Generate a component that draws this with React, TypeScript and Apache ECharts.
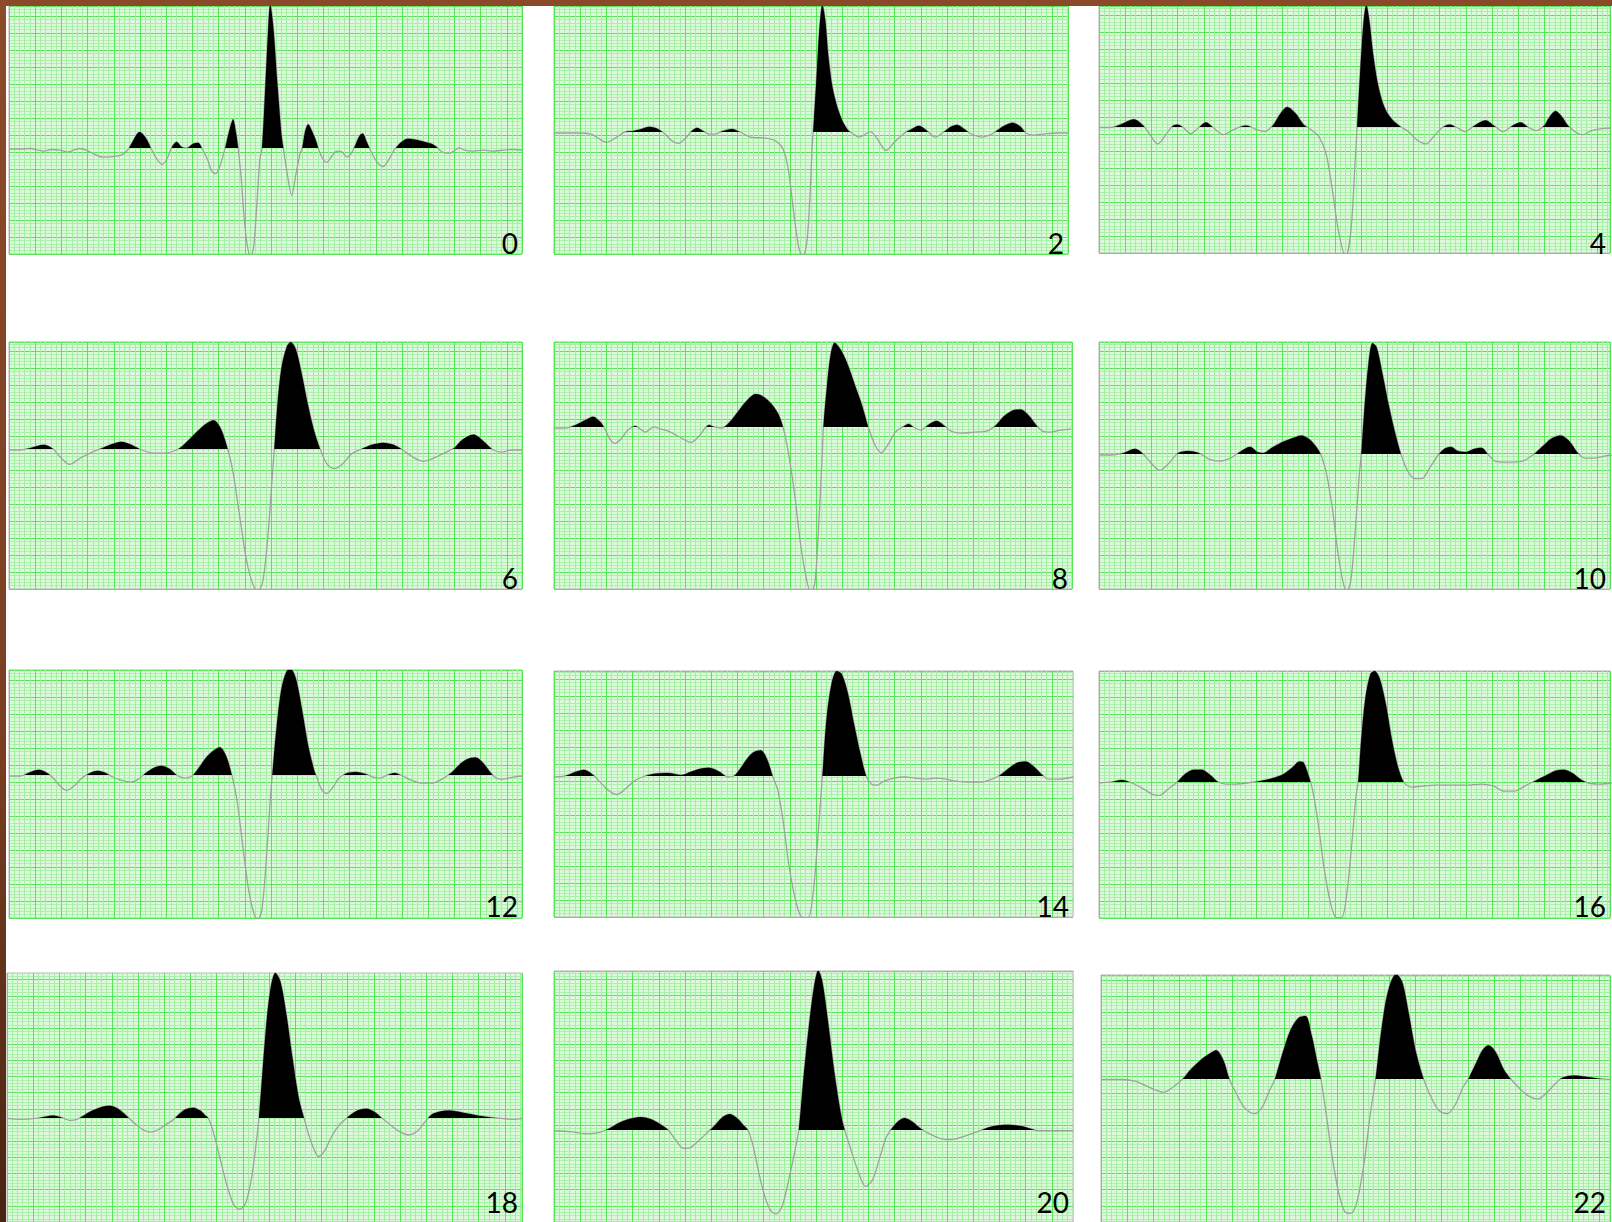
import React, { useEffect, useRef } from "react";
import * as echarts from "echarts";

// ---------- data (x = sample position, y = amplitude above the zero line) ----------
const panelLabels = ["0", "2", "4", "6", "8", "10", "12", "14", "16", "18", "20", "22"];

const trace0 = [[0,0],[11,0],[21,0.5],[28,-1],[34,-2],[41,-0.5],[49,-1],[57,-3],[63,-1],[69,0.5],[75,-1],[83,-5],[91,-8],[101,-7.5],[109,-6],[115,-1.5],[119,5],[127,16.5],[133,11],[139,-1],[144,-10],[149,-15],[154,-9],[158,1],[163,7],[168,2],[173,1],[179,5],[184,6],[188,0],[193,-10],[197,-21],[201,-24],[205,-17],[210,0],[214,17],[218,29],[221,15],[223,0],[226,-30],[229,-70],[232,-95],[235,-105],[238,-95],[241,-55],[244,-10],[246,0],[249,55],[252,115],[254,141],[257,120],[261,65],[265,15],[267,0],[270,-20],[275,-45],[279,-25],[283,-5],[285,0],[288,17],[291,24],[295,17],[299,7],[301,0],[305,-9],[309,-13],[314,-7],[319,-2],[324,-3],[329,-8],[333,-4],[336,2],[341,13],[344,15],[348,7],[351,0],[355,-8],[360,-15],[364,-17],[369,-11],[374,-2],[377,2],[382,7],[388,10],[396,9],[404,7],[411,5],[416,2],[419,-1],[424,-4],[429,-4],[434,-1],[438,1],[443,-1],[451,-2],[461,-1],[471,-2],[481,-1],[491,-0.5],[499,-1]];

const trace2 = [[0,0],[21,0],[36,-1],[51,-9],[61,-4],[69,1],[77,2],[85,4],[93,6],[101,4],[108,-1],[114,-7],[121,-10],[128,-5],[133,1],[139,5],[145,2],[151,-1],[157,-1],[164,2],[173,4],[181,1],[191,-4],[206,-5],[216,-8],[223,-16],[228,-36],[233,-76],[238,-111],[242,-121],[246,-106],[249,-61],[251,-16],[252,0],[255,49],[258,99],[261,125],[264,109],[267,74],[271,44],[276,24],[281,11],[286,3],[291,-1],[297,-4],[303,-1],[308,1],[314,-5],[323,-17],[331,-9],[341,0],[348,4],[355,7],[362,3],[371,-4],[379,1],[386,6],[392,8],[399,4],[406,-1],[416,-4],[426,-1],[436,6],[446,10],[454,6],[459,0],[466,-2],[476,-1],[489,0],[500,0]];

const trace4 = [[0,0],[11,0],[21,3],[34,8],[43,2],[49,-6],[57,-16],[65,-7],[71,1],[76,3],[82,0],[89,-6],[96,-1],[104,5],[111,0],[121,-7],[131,-2],[143,2],[153,-2],[161,-4],[169,2],[176,13],[183,20],[191,14],[199,3],[206,-2],[214,-9],[221,-26],[227,-61],[233,-101],[240,-126],[245,-101],[249,-36],[251,0],[254,54],[257,99],[260,120],[263,104],[267,69],[272,39],[278,19],[285,8],[293,1],[301,-4],[309,-12],[318,-16],[327,-7],[334,0],[341,3],[348,0],[356,-4],[364,1],[376,7],[384,2],[393,-4],[401,1],[410,5],[418,0],[425,-3],[433,2],[438,10],[444,16],[450,11],[457,1],[466,-6],[471,-7],[479,-3],[489,-1],[498,-0.5]];

const trace6 = [[0,0],[11,0],[21,2],[34,5],[43,1],[49,-6],[59,-14],[69,-8],[81,-2],[91,2],[101,6],[109,8],[119,5],[129,0],[141,-3],[151,-3],[163,0],[171,6],[181,16],[191,25],[199,29],[206,21],[213,0],[218,-22],[224,-62],[231,-107],[237,-130],[242,-138],[247,-127],[252,-82],[256,-27],[258,0],[261,43],[265,80],[270,100],[274,105],[279,98],[285,73],[291,43],[297,18],[303,0],[309,-13],[316,-18],[324,-14],[333,-4],[343,1],[353,5],[364,7],[374,5],[383,0],[393,-7],[403,-11],[413,-8],[423,-3],[433,2],[441,10],[452,15],[461,9],[471,0],[479,-2],[489,0],[499,0]];

const trace8 = [[0,0],[11,0],[21,3],[31,8],[38,11],[45,6],[49,0],[54,-10],[59,-15],[65,-11],[71,-3],[79,2],[84,-1],[89,-4],[97,1],[104,-1],[111,-3],[121,-8],[133,-14],[141,-8],[147,0],[151,3],[156,1],[163,0],[171,6],[179,16],[187,26],[196,33],[203,31],[211,24],[218,14],[223,0],[228,-24],[234,-64],[240,-114],[246,-149],[250,-160],[254,-149],[258,-84],[261,-24],[262,0],[265,36],[269,71],[273,83],[279,76],[286,61],[293,41],[300,21],[306,0],[312,-16],[318,-24],[325,-16],[332,-4],[339,1],[345,4],[351,0],[357,-2],[364,3],[372,7],[380,2],[386,-3],[396,-5],[409,-4],[421,-3],[429,2],[437,11],[446,17],[454,18],[462,12],[469,3],[475,-3],[483,-4],[493,-2],[503,-1]];

const trace10 = [[0,0],[12,0],[24,2],[35,6],[42,2],[50,-7],[59,-15],[68,-8],[77,2],[87,4],[97,2],[107,-4],[117,-6],[128,-3],[137,3],[147,8],[154,3],[160,2],[168,7],[177,12],[187,16],[197,19],[205,15],[212,7],[216,0],[221,-17],[227,-52],[232,-92],[237,-122],[241,-133],[245,-122],[249,-77],[253,-22],[255,0],[258,43],[262,88],[266,109],[270,105],[275,83],[282,48],[289,18],[294,0],[300,-15],[307,-23],[314,-23],[322,-12],[330,0],[336,6],[342,8],[349,4],[357,3],[365,6],[372,7],[379,0],[385,-6],[397,-7],[412,-6],[422,0],[432,9],[440,16],[449,19],[457,14],[465,3],[472,-3],[482,-3],[492,-1],[499,0]];

const trace12 = [[0,0],[11,0],[21,4],[29,6],[37,3],[43,-2],[49,-9],[56,-14],[63,-10],[71,-2],[79,3],[86,5],[94,3],[101,-1],[109,-4],[118,-6],[126,-3],[133,3],[141,8],[148,10],[156,7],[163,1],[171,-2],[178,0],[184,7],[191,17],[198,24],[205,28],[211,20],[217,0],[222,-25],[227,-65],[233,-110],[238,-133],[242,-140],[246,-130],[250,-85],[254,-25],[256,0],[260,45],[265,85],[270,102],[274,104],[279,95],[285,65],[291,30],[297,5],[299,0],[304,-13],[309,-17],[315,-11],[321,-2],[329,3],[338,4],[347,2],[354,-1],[361,-2],[368,1],[375,3],[383,0],[391,-4],[401,-7],[411,-7],[421,-3],[431,4],[439,12],[447,17],[454,18],[461,13],[468,4],[474,-2],[481,-3],[491,-1],[499,0]];

const trace14 = [[0,0],[11,1],[21,5],[29,7],[37,3],[44,-4],[53,-13],[61,-17],[69,-12],[78,-4],[86,0],[96,3],[111,4],[124,2],[133,5],[142,8],[151,9],[161,5],[169,0],[175,1],[181,8],[188,18],[194,24],[201,26],[207,18],[213,0],[218,-14],[223,-44],[229,-89],[236,-124],[242,-137],[247,-137],[252,-114],[257,-54],[261,0],[265,56],[270,91],[275,103],[280,100],[286,81],[292,51],[298,23],[304,0],[309,-7],[314,-8],[321,-4],[331,-1],[341,0],[351,-1],[361,-2],[371,-1],[381,-2],[391,-4],[403,-5],[416,-5],[426,-2],[434,2],[443,9],[451,14],[459,15],[467,10],[474,3],[481,-2],[491,-2],[505,0]];

const trace16 = [[0,0],[12,1],[22,3],[32,0],[42,-5],[52,-11],[59,-12],[67,-6],[75,0],[84,9],[92,13],[100,13],[108,8],[116,1],[124,-1],[132,-1],[144,0],[157,2],[170,5],[180,9],[188,15],[195,21],[199,20],[204,7],[208,-8],[213,-38],[219,-83],[225,-116],[231,-131],[236,-131],[241,-108],[246,-58],[250,-13],[252,0],[255,42],[259,82],[264,106],[268,109],[273,102],[279,77],[285,42],[291,15],[297,0],[304,-4],[314,-3],[327,-2],[342,-2],[357,-2],[372,-1],[384,-3],[394,-8],[404,-8],[414,-3],[424,2],[434,7],[444,12],[452,13],[460,10],[468,4],[476,0],[487,-1],[499,0]];

const trace18 = [[0,0],[13,-1],[28,0],[38,2],[45,3],[53,1],[61,-2],[68,-1],[73,2],[83,8],[93,12],[100,13],[108,10],[115,4],[119,0],[125,-6],[133,-12],[140,-14],[148,-11],[155,-6],[161,-2],[165,2],[173,9],[181,11],[188,8],[193,3],[196,0],[201,-15],[207,-40],[213,-65],[220,-87],[226,-93],[232,-87],[238,-60],[243,-20],[245,0],[249,55],[253,105],[257,137],[261,149],[266,140],[272,105],[278,60],[284,20],[289,0],[293,-15],[298,-30],[303,-39],[309,-33],[316,-18],[323,-7],[330,0],[336,5],[343,9],[350,10],[357,7],[364,1],[371,-5],[381,-13],[391,-17],[399,-13],[407,-3],[413,4],[421,7],[430,8],[443,6],[458,3],[471,1],[481,0],[493,-1],[501,0]];

const trace20 = [[0,0],[16,-1],[31,-3],[43,-2],[53,2],[63,8],[73,12],[84,14],[94,12],[103,7],[111,1],[118,-9],[126,-18],[133,-17],[141,-10],[149,-2],[156,5],[164,14],[171,17],[178,13],[184,6],[189,0],[194,-17],[199,-42],[205,-67],[211,-82],[216,-85],[222,-77],[229,-47],[235,-17],[238,0],[243,58],[248,108],[253,148],[257,164],[261,153],[267,108],[273,58],[279,18],[283,0],[289,-20],[296,-42],[303,-57],[310,-50],[317,-27],[323,-7],[327,0],[333,8],[341,13],[349,9],[357,2],[365,-3],[376,-8],[386,-9],[398,-6],[409,-2],[419,2],[429,5],[441,6],[453,5],[464,2],[471,0],[486,0],[505,0]];

const trace22 = [[0,0],[19,0],[34,-2],[47,-8],[61,-13],[71,-7],[79,0],[87,10],[97,20],[105,26],[112,30],[119,20],[125,0],[131,-13],[139,-28],[149,-35],[157,-28],[164,-11],[169,0],[176,25],[184,50],[192,63],[199,65],[205,45],[210,20],[214,0],[219,-35],[225,-80],[231,-115],[237,-135],[243,-137],[249,-125],[256,-85],[262,-35],[267,0],[272,45],[277,80],[282,100],[287,108],[293,100],[299,70],[306,30],[314,0],[321,-18],[329,-32],[337,-35],[345,-25],[352,-8],[357,0],[364,15],[371,30],[377,35],[384,28],[392,10],[399,0],[407,-9],[416,-17],[425,-20],[434,-13],[443,-3],[449,2],[459,4],[471,3],[484,1],[496,0]];

const traces = [trace0, trace2, trace4, trace6, trace8, trace10, trace12, trace14, trace16, trace18, trace20, trace22];

// ---------- layout (page pixels) ----------
const K = 1612 / 1568; // data unit -> page px
const panelLeft = [9, 554, 1099, 9, 554, 1099, 9, 554, 1099, 7, 554, 1101];
const panelTop = [6, 6, 6, 342, 342, 342, 670, 671, 671, 973, 971, 975];
const panelWidth = [513, 514, 511, 513, 518, 511, 513, 519, 511, 515, 519, 509];
const panelHeight = [248, 248, 247, 247, 247, 247, 248, 246, 247, 262, 264, 260];
const zeroLine = [149, 133, 127.5, 450, 428, 455, 776, 777, 783, 1126, 1139, 1085];
const labelBottom = [257, 257, 257, 592, 592, 592, 920, 920, 920, 1216, 1216, 1216];
const MAJOR_X = 26.2;
const MAJOR_Y = 17;

export default function App() {
  const ref = useRef<HTMLDivElement>(null);
  useEffect(() => {
    if (!ref.current) return;
    const chart = echarts.init(ref.current, undefined, { renderer: "svg" });
    const grids: any[] = [];
    const xAxes: any[] = [];
    const yAxes: any[] = [];
    const series: any[] = [];
    const areaIdx: number[] = [];
    const graphics: any[] = [
      { type: "rect", shape: { x: 0, y: 0, width: 1612, height: 6 }, style: { fill: "#8a4a2a" }, z: 10 },
      {
        type: "rect",
        shape: { x: 0, y: 0, width: 6, height: 1222 },
        style: {
          fill: new echarts.graphic.LinearGradient(0, 0, 0, 1, [
            { offset: 0, color: "#8c4b2a" },
            { offset: 0.6, color: "#7a3f22" },
            { offset: 1, color: "#4a2412" },
          ]),
        },
        z: 10,
      },
    ];
    traces.forEach((tr, i) => {
      const gl = panelLeft[i], gt = panelTop[i], gw = panelWidth[i], gh = panelHeight[i];
      grids.push({
        left: gl, top: gt, width: gw, height: gh,
        show: true, backgroundColor: "#dcf9dc", borderColor: "#b4b4b4", borderWidth: 1,
        containLabel: false,
      });
      // graph-paper axes
      xAxes.push({
        gridIndex: i, type: "value", min: 0, max: gw / MAJOR_X, interval: 1,
        axisLine: { show: false }, axisTick: { show: false }, axisLabel: { show: false },
        splitLine: { show: true, lineStyle: { color: "#55e655", width: 1 } },
        minorTick: { show: false, splitNumber: 5 },
        minorSplitLine: { show: true, lineStyle: { color: "#a2efa2", width: 1 } },
      });
      yAxes.push({
        gridIndex: i, type: "value", min: 0, max: gh / MAJOR_Y, interval: 1,
        axisLine: { show: false }, axisTick: { show: false }, axisLabel: { show: false },
        splitLine: { show: true, lineStyle: { color: "#55e655", width: 1 } },
        minorTick: { show: false, splitNumber: 5 },
        minorSplitLine: { show: true, lineStyle: { color: "#aef1ae", width: 1 } },
      });
      // data axes
      xAxes.push({
        gridIndex: i, type: "value", min: 0, max: gw / K, show: false,
        splitLine: { show: false },
      });
      yAxes.push({
        gridIndex: i, type: "value",
        min: -(gt + gh - zeroLine[i]) / K, max: (zeroLine[i] - gt) / K,
        show: false, splitLine: { show: false },
      });
      const ax = 2 * i + 1;
      series.push({
        type: "line", xAxisIndex: ax, yAxisIndex: ax, data: tr, smooth: 0.3,
        showSymbol: false, silent: true, z: 3,
        lineStyle: { color: "#a0a0a0", width: 1.3 },
      });
      areaIdx.push(series.length);
      series.push({
        type: "line", xAxisIndex: ax, yAxisIndex: ax, data: tr, smooth: 0.3,
        showSymbol: false, silent: true, z: 4,
        lineStyle: { width: 0, opacity: 0 },
        areaStyle: { opacity: 1 },
      });
      graphics.push({
        type: "text", x: gl + gw - 4, y: labelBottom[i], z: 20,
        style: {
          text: panelLabels[i], fill: "#000", font: "28px Lato",
          textAlign: "right", textVerticalAlign: "bottom",
        },
      });
    });
    chart.setOption({
      animation: false,
      backgroundColor: "#ffffff",
      grid: grids,
      xAxis: xAxes,
      yAxis: yAxes,
      series,
      visualMap: {
        type: "piecewise", show: false, dimension: 1, seriesIndex: areaIdx,
        pieces: [
          { gte: -1000, lt: 0.6, color: "rgba(0,0,0,0)" },
          { gte: 0.6, lte: 1000, color: "#000000" },
        ],
        outOfRange: { color: "rgba(0,0,0,0)" },
      },
      graphic: graphics,
    });
    return () => chart.dispose();
  }, []);
  return (
    <div
      ref={ref}
      style={{ position: "absolute", left: 0, top: 0, width: 1612, height: 1222 }}
    />
  );
}
